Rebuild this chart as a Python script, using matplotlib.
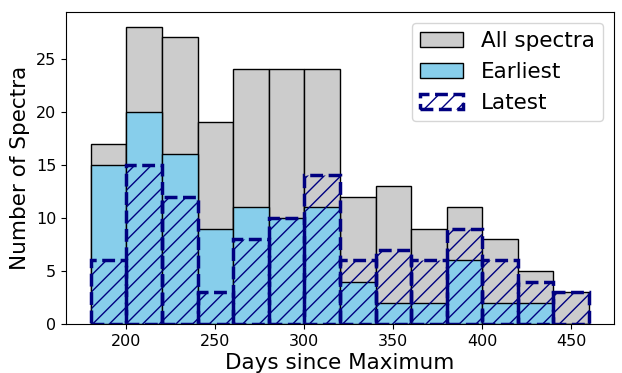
import numpy as np
import matplotlib.pyplot as plt

# bin left edges (days since maximum), width 20
bin_edges = np.arange(180, 461, 20)
all_spectra = [17, 28, 27, 19, 24, 24, 24, 12, 13, 9, 11, 8, 5, 3]
earliest = [15, 20, 16, 9, 11, 10, 11, 4, 2, 2, 6, 2, 2, 0]
latest = [6, 15, 12, 3, 8, 10, 14, 6, 7, 6, 9, 6, 4, 3]

centers = bin_edges[:-1] + 10

fig, ax = plt.subplots(figsize=(6.22, 3.73), dpi=100)

ax.hist(centers, bins=bin_edges, weights=all_spectra, color="#cccccc",
        edgecolor="black", linewidth=1, label="All spectra")
ax.hist(centers, bins=bin_edges, weights=earliest, color="skyblue",
        edgecolor="black", linewidth=1, label="Earliest")
ax.hist(centers, bins=bin_edges, weights=latest, fill=False, hatch="//",
        edgecolor="navy", linestyle="--", linewidth=2.5, label="Latest")

ax.set_xlabel("Days since Maximum", fontsize=15.5, labelpad=3)
ax.set_ylabel("Number of Spectra", fontsize=15.5)
ax.tick_params(labelsize=11.5)
ax.legend(fontsize=15.5, loc="upper right")

fig.subplots_adjust(left=0.106, right=0.987, bottom=0.131, top=0.968)
fig.savefig("out.png", dpi=100)
